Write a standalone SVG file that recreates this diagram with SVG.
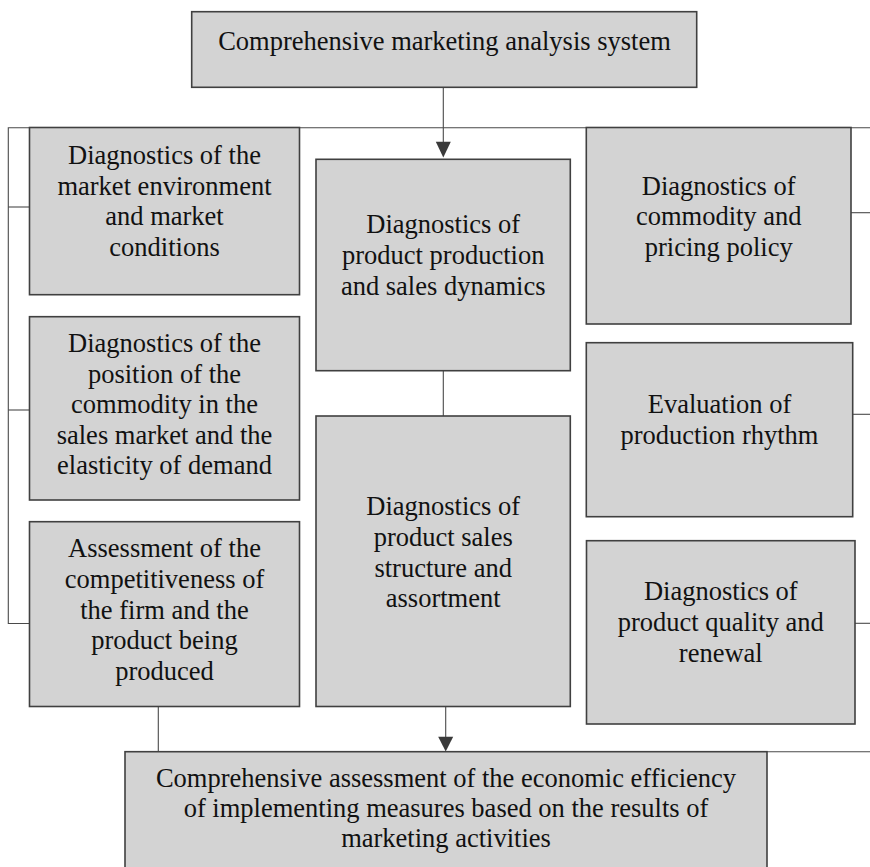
<svg xmlns="http://www.w3.org/2000/svg" width="870" height="867" viewBox="0 0 870 867">
  <defs>
    <style>
      .box { fill: #d3d3d3; stroke: #404040; stroke-width: 1.6; }
      .lbl { font-family: "Liberation Serif", "DejaVu Serif", "Times New Roman", serif; font-size: 26.5px; fill: #111111; text-anchor: middle; }
      .conn { stroke: #4a4a4a; stroke-width: 1.1; fill: none; }
      .head { fill: #3a3a3a; stroke: none; }
    </style>
  </defs>
  <rect width="870" height="867" fill="#ffffff"/>

  <g id="connectors">
    <line class="conn" x1="443.3" y1="87.3" x2="443.3" y2="144"/>
    <polygon class="head" points="435.8,141.7 450.8,141.7 443.3,157.5"/>
    <polyline class="conn" points="870,127.7 8.3,127.7 8.3,623.5 29.5,623.5"/>
    <line class="conn" x1="8.3" y1="207" x2="29.5" y2="207"/>
    <line class="conn" x1="8.3" y1="410" x2="29.5" y2="410"/>
    <line class="conn" x1="851" y1="212.7" x2="870" y2="212.7"/>
    <line class="conn" x1="852.7" y1="414.3" x2="870" y2="414.3"/>
    <line class="conn" x1="855" y1="623.3" x2="870" y2="623.3"/>
    <line class="conn" x1="443.3" y1="370.7" x2="443.3" y2="416"/>
    <line class="conn" x1="158.3" y1="706.5" x2="158.3" y2="751.7"/>
    <line class="conn" x1="445.7" y1="706.5" x2="445.7" y2="740"/>
    <polygon class="head" points="438.2,736.7 453.2,736.7 445.7,751.5"/>
    <line class="conn" x1="767" y1="751.7" x2="870" y2="751.7"/>
  </g>

  <g id="n-top">
    <rect class="box" x="191.7" y="11.7" width="505" height="75.6"/>
    <text class="lbl" x="444.5" y="50">Comprehensive marketing analysis system</text>
  </g>

  <g id="n-left1">
    <rect class="box" x="29.5" y="127.5" width="270" height="167.2"/>
    <text class="lbl" x="164.5" y="164">Diagnostics of the</text>
    <text class="lbl" x="164.5" y="194.5">market environment</text>
    <text class="lbl" x="164.5" y="225">and market</text>
    <text class="lbl" x="164.5" y="255.5">conditions</text>
  </g>

  <g id="n-left2">
    <rect class="box" x="29.5" y="316.7" width="270" height="183.3"/>
    <text class="lbl" x="164.5" y="352">Diagnostics of the</text>
    <text class="lbl" x="164.5" y="382.5">position of the</text>
    <text class="lbl" x="164.5" y="413">commodity in the</text>
    <text class="lbl" x="164.5" y="443.5">sales market and the</text>
    <text class="lbl" x="164.5" y="474">elasticity of demand</text>
  </g>

  <g id="n-left3">
    <rect class="box" x="29.5" y="521.7" width="270" height="184.8"/>
    <text class="lbl" x="164.5" y="557">Assessment of the</text>
    <text class="lbl" x="164.5" y="588">competitiveness of</text>
    <text class="lbl" x="164.5" y="618.5">the firm and the</text>
    <text class="lbl" x="164.5" y="649">product being</text>
    <text class="lbl" x="164.5" y="680">produced</text>
  </g>

  <g id="n-mid1">
    <rect class="box" x="316" y="159.3" width="254.3" height="211.4"/>
    <text class="lbl" x="443.2" y="233.3">Diagnostics of</text>
    <text class="lbl" x="443.2" y="264">product production</text>
    <text class="lbl" x="443.2" y="295">and sales dynamics</text>
  </g>

  <g id="n-mid2">
    <rect class="box" x="316" y="416" width="254.3" height="290.5"/>
    <text class="lbl" x="443.2" y="515">Diagnostics of</text>
    <text class="lbl" x="443.2" y="546">product sales</text>
    <text class="lbl" x="443.2" y="576.5">structure and</text>
    <text class="lbl" x="443.2" y="607.3">assortment</text>
  </g>

  <g id="n-right1">
    <rect class="box" x="586.3" y="127.5" width="264.7" height="196.5"/>
    <text class="lbl" x="718.7" y="194.5">Diagnostics of</text>
    <text class="lbl" x="718.7" y="225">commodity and</text>
    <text class="lbl" x="718.7" y="255.5">pricing policy</text>
  </g>

  <g id="n-right2">
    <rect class="box" x="586.3" y="342.7" width="266.4" height="174"/>
    <text class="lbl" x="719.5" y="413">Evaluation of</text>
    <text class="lbl" x="719.5" y="443.5">production rhythm</text>
  </g>

  <g id="n-right3">
    <rect class="box" x="586.5" y="540.7" width="268.5" height="183.3"/>
    <text class="lbl" x="720.8" y="600">Diagnostics of</text>
    <text class="lbl" x="720.8" y="631">product quality and</text>
    <text class="lbl" x="720.8" y="662">renewal</text>
  </g>

  <g id="n-bottom">
    <rect class="box" x="125" y="751.7" width="642" height="130"/>
    <text class="lbl" x="446" y="786.7">Comprehensive assessment of the economic efficiency</text>
    <text class="lbl" x="446" y="817">of implementing measures based on the results of</text>
    <text class="lbl" x="446" y="847.3">marketing activities</text>
  </g>
</svg>
